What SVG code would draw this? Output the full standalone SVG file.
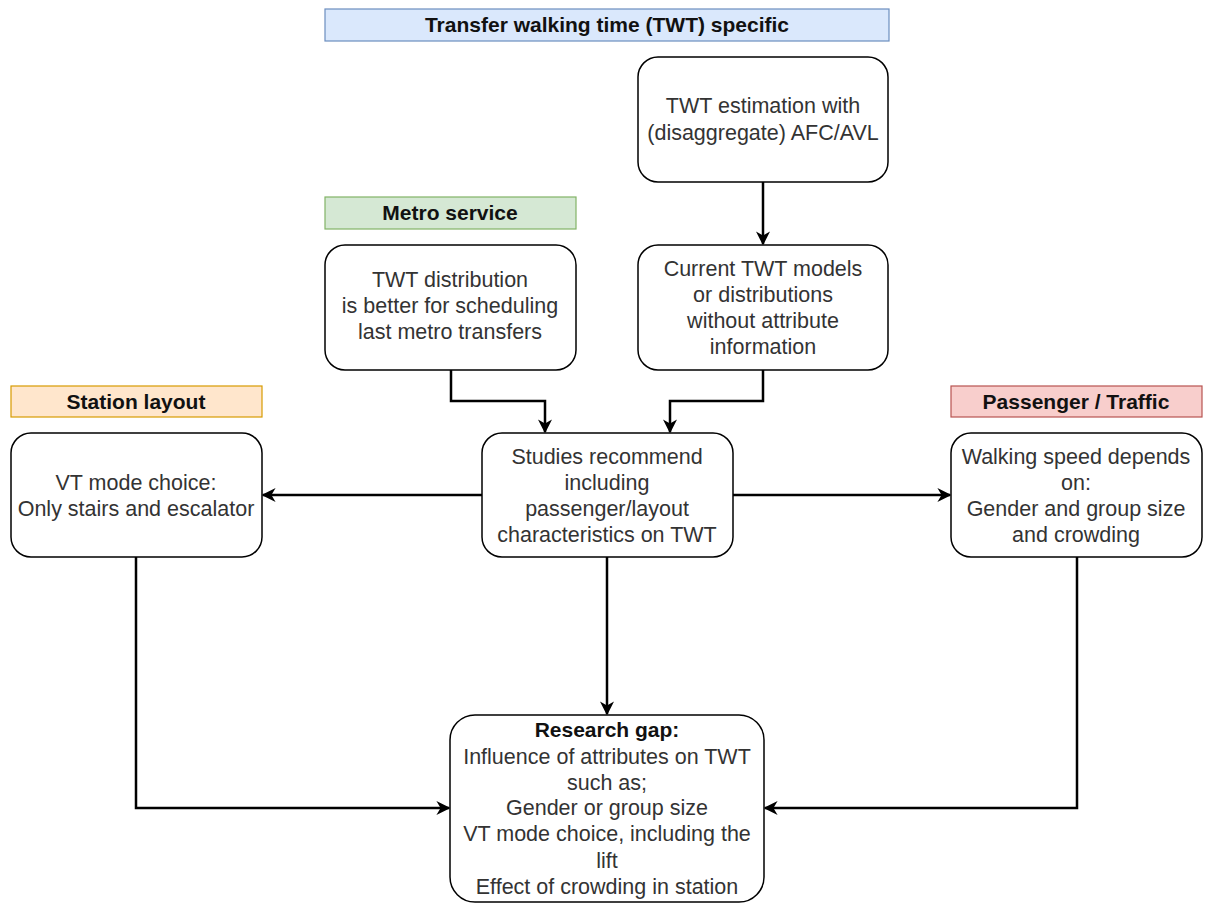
<svg xmlns="http://www.w3.org/2000/svg" width="1205" height="903" viewBox="0 0 1205 903">
<defs>
<marker id="ah" viewBox="0 0 10 10" refX="9" refY="5" markerWidth="14" markerHeight="14" markerUnits="userSpaceOnUse" orient="auto">
<path d="M0,0 L10,5 L0,10 L3,5 Z" fill="#000"/>
</marker>
<style>
.box{fill:#fff;stroke:#000;stroke-width:1.5}
.hdr{stroke-width:1.2}
.t{font-family:"Liberation Sans",Arial,sans-serif;font-size:21.5px;fill:#333;text-anchor:middle}
.b{font-family:"Liberation Sans",Arial,sans-serif;font-size:21px;font-weight:bold;fill:#111;text-anchor:middle}
.c{fill:none;stroke:#000;stroke-width:2.5;marker-end:url(#ah)}
</style>
</defs>
<rect width="1205" height="903" fill="#fff"/>
<g id="hdr-twt"><rect class="hdr" x="325" y="9" width="564" height="32" fill="#dae8fc" stroke="#6c8ebf"/><text class="b" x="607" y="32">Transfer walking time (TWT) specific</text></g>
<g id="hdr-metro"><rect class="hdr" x="325" y="197" width="251" height="32" fill="#d5e8d4" stroke="#82b366"/><text class="b" x="450" y="220">Metro service</text></g>
<g id="hdr-station"><rect class="hdr" x="11" y="386" width="251" height="31" fill="#ffe6cc" stroke="#d79b00"/><text class="b" x="136" y="409">Station layout</text></g>
<g id="hdr-pass"><rect class="hdr" x="951" y="386" width="251" height="31" fill="#f8cecc" stroke="#b85450"/><text class="b" x="1076" y="409">Passenger / Traffic</text></g>
<g id="n-est"><rect class="box" x="638" y="57" width="250" height="125" rx="20"/><text class="t" x="763" y="113">TWT estimation with</text><text class="t" x="763" y="140">(disaggregate) AFC/AVL</text></g>
<g id="n-current"><rect class="box" x="638" y="245" width="250" height="125" rx="20"/><text class="t" x="763" y="276">Current TWT models</text><text class="t" x="763" y="302">or distributions</text><text class="t" x="763" y="328">without attribute</text><text class="t" x="763" y="354">information</text></g>
<g id="n-metro"><rect class="box" x="325" y="245" width="251" height="125" rx="20"/><text class="t" x="450" y="287">TWT distribution</text><text class="t" x="450" y="313">is better for scheduling</text><text class="t" x="450" y="339">last metro transfers</text></g>
<g id="n-vt"><rect class="box" x="11" y="433" width="251" height="124" rx="20"/><text class="t" x="136" y="490">VT mode choice:</text><text class="t" x="136" y="516">Only stairs and escalator</text></g>
<g id="n-studies"><rect class="box" x="482" y="433" width="251" height="124" rx="20"/><text class="t" x="607" y="464">Studies recommend</text><text class="t" x="607" y="490">including</text><text class="t" x="607" y="516">passenger/layout</text><text class="t" x="607" y="542">characteristics on TWT</text></g>
<g id="n-walk"><rect class="box" x="951" y="433" width="251" height="124" rx="20"/><text class="t" x="1076" y="464">Walking speed depends</text><text class="t" x="1076" y="490">on:</text><text class="t" x="1076" y="516">Gender and group size</text><text class="t" x="1076" y="542">and crowding</text></g>
<g id="n-gap"><rect class="box" x="450" y="715" width="314" height="187" rx="25"/><text class="b" x="607" y="737">Research gap:</text><text class="t" x="607" y="764">Influence of attributes on TWT</text><text class="t" x="607" y="790">such as;</text><text class="t" x="607" y="815">Gender or group size</text><text class="t" x="607" y="841">VT mode choice, including the</text><text class="t" x="607" y="868">lift</text><text class="t" x="607" y="894">Effect of crowding in station</text></g>
<g id="connectors">
<path class="c" d="M763,182 L763,244"/>
<path class="c" d="M451,370 L451,401 L545,401 L545,432"/>
<path class="c" d="M763,370 L763,401 L670,401 L670,432"/>
<path class="c" d="M482,495 L263,495"/>
<path class="c" d="M733,495 L950,495"/>
<path class="c" d="M607,557 L607,714"/>
<path class="c" d="M136,557 L136,808 L449,808"/>
<path class="c" d="M1077,557 L1077,808 L765,808"/>
</g>
</svg>
